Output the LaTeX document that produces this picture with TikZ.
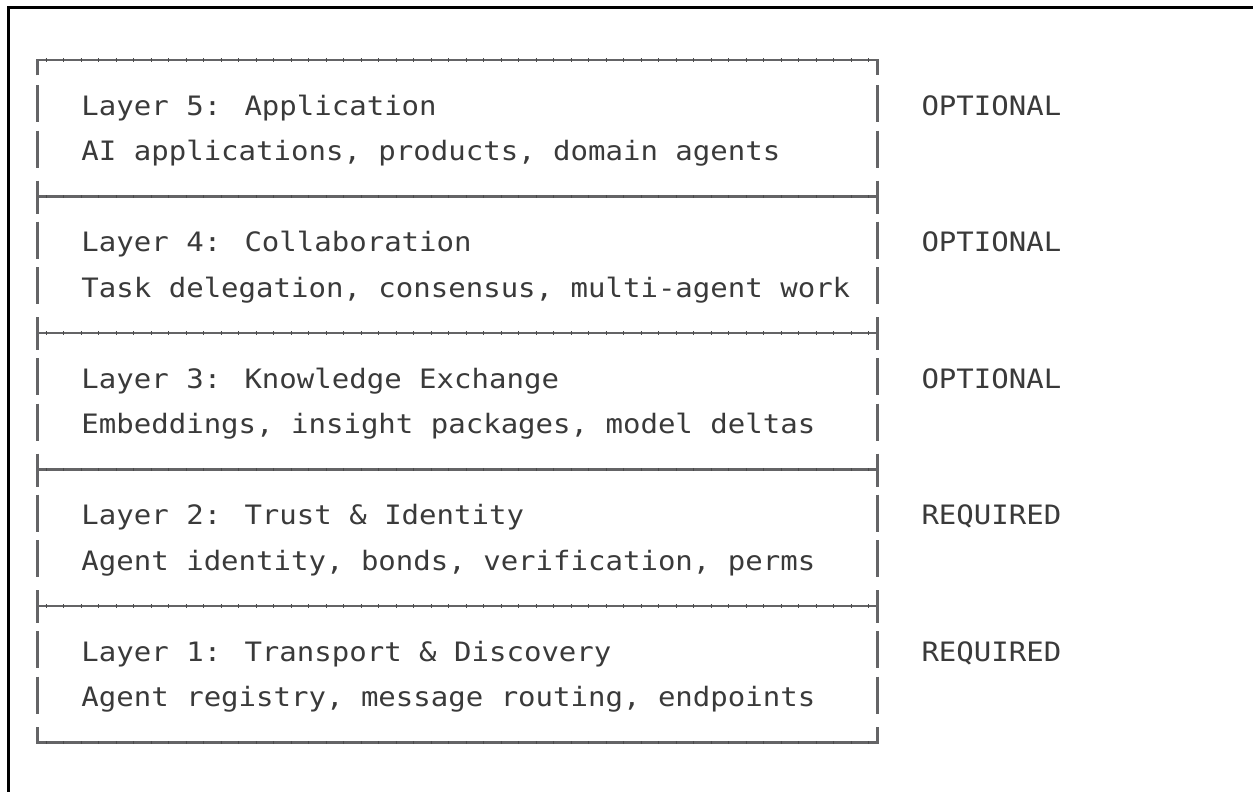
\documentclass[tikz,border=0pt]{standalone}
\usepackage{fontspec}
\newfontfamily\monof[FakeStretch=1.087]{DejaVu Sans Mono}
\definecolor{txt}{HTML}{3A3A3A}
\definecolor{rulec}{HTML}{646466}
\begin{document}
\begin{tikzpicture}[x=1pt,y=-1pt,
  lbl/.style={anchor=base west, inner sep=0pt, outer sep=0pt, text=txt,
    font=\monof\fontsize{26.7}{30}\selectfont},
  boxline/.style={draw=rulec, line width=2.8pt},
  tickline/.style={draw=rulec!75!black, line width=3.2pt,
    dash pattern=on 1pt off 16.5pt, dash phase=9.6pt},
  frameline/.style={draw=black, line width=2.8pt}]
\useasboundingbox (0,0) rectangle (1253,792);
% outer frame (cropped at right and bottom)
\coordinate (fa) at (8.7,792);
\coordinate (fb) at (8.7,7.2);
\coordinate (fc) at (1253,7.2);
\draw[frameline] (fa) -- (fb) -- (fc);
\def\xl{37.7}
\def\xr{877.7}
% top and bottom corners
\draw[boxline] (\xl,75.5) -- (\xl,60) -- (\xr,60) -- (\xr,75.5);
\draw[boxline] (\xl,727) -- (\xl,742.5) -- (\xr,742.5) -- (\xr,727);
\draw[tickline] (\xl,60) -- (\xr,60);
\draw[tickline] (\xl,742.5) -- (\xr,742.5);
% inner separators
\foreach \s in {1,2,3,4}{
  \pgfmathsetmacro\ys{60+136.5*\s}
  \draw[boxline] (\xl,\ys) -- (\xr,\ys);
  \draw[tickline] (\xl,\ys) -- (\xr,\ys);
  \draw[boxline] (\xl,\ys-16) -- (\xl,\ys+17);
  \draw[boxline] (\xr,\ys-16) -- (\xr,\ys+17);
}
% text rows
\foreach \k/\ti/\su/\st in {
  0/{Layer 5: Application}/{AI applications, products, domain agents}/OPTIONAL,
  1/{Layer 4: Collaboration}/{Task delegation, consensus, multi-agent work}/OPTIONAL,
  2/{Layer 3: Knowledge Exchange}/{Embeddings, insight packages, model deltas}/OPTIONAL,
  3/{Layer 2: Trust \& Identity}/{Agent identity, bonds, verification, perms}/REQUIRED,
  4/{Layer 1: Transport \& Discovery}/{Agent registry, message routing, endpoints}/REQUIRED}{
  \pgfmathsetmacro\ya{60+136.5*\k+45.5}
  \pgfmathsetmacro\yb{60+136.5*\k+91}
  \foreach \yy in {\ya,\yb}{
    \draw[boxline] (\xl,\yy-20.5) -- (\xl,\yy+16.5);
    \draw[boxline] (\xr,\yy-20.5) -- (\xr,\yy+16.5);
  }
  \node[lbl] (t\k) at (81.45,\ya+9.5) {\ti};
  \node[lbl] (d\k) at (81.45,\yb+9.5) {\su};
  \node[lbl] (r\k) at (921.5,\ya+9.5) {\st};
}
\end{tikzpicture}
\end{document}
